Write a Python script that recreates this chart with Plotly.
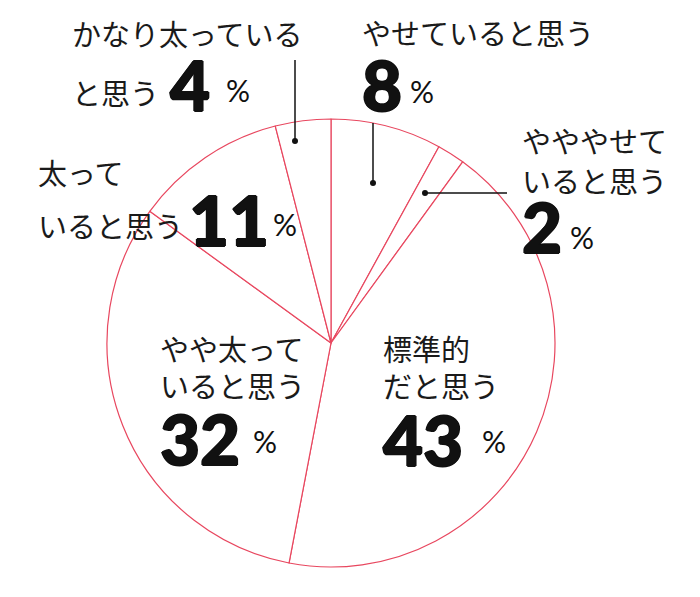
import plotly.graph_objects as go

# 回答データ（12時の位置から時計回り）
labels = ["やせていると思う", "やややせていると思う", "標準的だと思う",
          "やや太っていると思う", "太っていると思う", "かなり太っていると思う"]
values = [8, 2, 43, 32, 11, 4]
# 表示用の改行入りラベル
label_lines = [
    ["やせていると思う"],
    ["やややせて", "いると思う"],
    ["標準的", "だと思う"],
    ["やや太って", "いると思う"],
    ["太って", "いると思う"],
    ["かなり太っている", "と思う"],
]

OFF = 8  # body margin of the html page
W, H = 692, 581
JP = "Noto Sans CJK JP"
NUM = "Lato"
PINK = "#e8475f"
BOLD = "1px 0 #111, -1px 0 #111, 0 1px #111, 0 -1px #111"


def px(x, y):
    # 画像上のピクセル位置 -> paper座標
    return (x - OFF) / W, 1 - (y - OFF) / H


fig = go.Figure()
x0, y0 = px(107, 567)
x1, y1 = px(555, 119)
fig.add_trace(go.Pie(
    labels=labels, values=values,
    sort=False, direction="clockwise", rotation=0,
    marker=dict(colors=["white"] * len(values), line=dict(color=PINK, width=1.2)),
    textinfo="none", hoverinfo="label+percent",
    domain=dict(x=[x0, x1], y=[y0, y1]),
    showlegend=False,
))

# ラベル配置（左端x, 各行の中心y, 数字の位置, %の位置）
pos = [
    dict(x=362, ys=[32], nx=360, ny=84, px_=408, py=91),
    dict(x=522, ys=[140, 180], nx=520, ny=226, px_=568, py=237),
    dict(x=383, ys=[348, 385], nx=381, ny=439, px_=480, py=441),
    dict(x=160, ys=[348, 385], nx=158, ny=438, px_=251, py=441),
    dict(x=38, ys=[172, 225], nx=187, ny=219, px_=271, py=224),
    dict(x=72, ys=[33, 92], nx=168, ny=85, px_=224, py=90),
]

for lines, v, p in zip(label_lines, values, pos):
    for t, y in zip(lines, p["ys"]):
        ax, ay = px(p["x"] - 2, y)
        fig.add_annotation(x=ax, y=ay, xref="paper", yref="paper", text=t,
                           showarrow=False, xanchor="left", yanchor="middle",
                           font=dict(family=JP, size=29, color="#1a1a1a"))
    ax, ay = px(p["nx"], p["ny"])
    fig.add_annotation(x=ax, y=ay, xref="paper", yref="paper", text=str(v),
                       showarrow=False, xanchor="left", yanchor="middle",
                       font=dict(family=NUM, size=69, color="#111", weight=900,
                                 shadow=BOLD))
    ax, ay = px(p["px_"], p["py"])
    fig.add_annotation(x=ax, y=ay, xref="paper", yref="paper", text="%",
                       showarrow=False, xanchor="left", yanchor="middle",
                       font=dict(family=NUM, size=30, color="#111"))

# 引き出し線
leaders = [((295, 60), (295, 141), (295, 141)),
           ((373, 123), (373, 183), (373, 183)),
           ((425, 193), (507, 193), (425, 193))]
for (lx0, ly0), (lx1, ly1), (dx, dy) in leaders:
    a0, b0 = px(lx0, ly0)
    a1, b1 = px(lx1, ly1)
    fig.add_shape(type="line", xref="paper", yref="paper", x0=a0, y0=b0, x1=a1, y1=b1,
                  line=dict(color="#111", width=1.5))
    c0, d0 = px(dx - 3, dy - 3)
    c1, d1 = px(dx + 3, dy + 3)
    fig.add_shape(type="circle", xref="paper", yref="paper", x0=c0, y0=d0, x1=c1, y1=d1,
                  fillcolor="#111", line=dict(color="#111", width=0))

fig.update_layout(width=W, height=H, margin=dict(l=0, r=0, t=0, b=0),
                  paper_bgcolor="white", plot_bgcolor="white")
fig.write_html("out.html")
